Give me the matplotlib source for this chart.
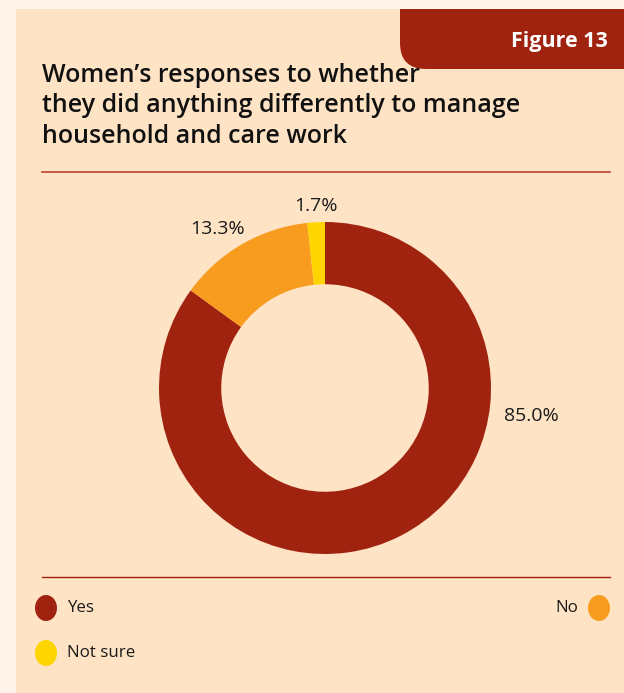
import matplotlib
matplotlib.use("Agg")
import matplotlib.pyplot as plt
from matplotlib.patches import FancyBboxPatch, Rectangle, Ellipse
from matplotlib.lines import Line2D
from matplotlib.transforms import IdentityTransform

categories = ["Yes", "No", "Not sure"]
values = [85.0, 13.3, 1.7]
value_labels = ["85.0%", "13.3%", "1.7%"]
colors = ["#A0230F", "#F89C1F", "#FFD500"]
title = "Women\u2019s responses to whether\nthey did anything differently to manage\nhousehold and care work"
badge = "Figure 13"

W, H = 624, 693
plt.rcParams['font.family'] = ['Open Sans', 'DejaVu Sans']
fig = plt.figure(figsize=(W / 100, H / 100), dpi=100)
fig.patch.set_facecolor("#FFF3EA")

def fx(px):
    return px / W

def fy(py):
    return 1 - py / H

# panel
fig.patches.append(Rectangle((fx(16), 0), 1 - fx(16), fy(9), transform=fig.transFigure,
                             facecolor="#FFE3C5", edgecolor="none", zorder=-2))
# badge (pixel coords, origin bottom-left)
fig.patches.append(FancyBboxPatch((400, H - 69), 260, 100,
                                  boxstyle="round,pad=0,rounding_size=26",
                                  transform=IdentityTransform(), facecolor="#A0230F",
                                  edgecolor="none", zorder=1))
fig.patches.append(Rectangle((0, fy(9)), 1, 1, transform=fig.transFigure,
                             facecolor="#FFF3EA", edgecolor="none", zorder=1.5))
fig.text(fx(608), fy(42), badge, ha="right", va="center", color="white",
         fontsize=15.5, fontweight="bold", zorder=2)
fig.text(fx(42), fy(63), title, ha="left", va="top", color="#111111",
         fontsize=18, fontweight="semibold", linespacing=1.28)
fig.lines.append(Line2D([fx(42), fx(610)], [fy(172), fy(172)], transform=fig.transFigure,
                        color="#C0452E", lw=1.2))
fig.lines.append(Line2D([fx(42), fx(610)], [fy(577), fy(577)], transform=fig.transFigure,
                        color="#A0230F", lw=1.0))

# donut
cx, cy, R = 325, 388, 166
half = 180
ax = fig.add_axes([fx(cx - half), fy(cy + half), fx(2 * half), (2 * half) / H])
ax.set_facecolor("none")
wedges, _ = ax.pie(values, colors=colors, startangle=90, counterclock=False,
                   radius=1.0, wedgeprops=dict(width=0.375, edgecolor="none"))
lim = half / R
ax.set_xlim(-lim, lim)
ax.set_ylim(-lim, lim)
ax.set_aspect("equal")
ax.axis("off")

label_pos = [(531, 416), (217, 229), (316, 206)]
for (px, py), t in zip(label_pos, value_labels):
    fig.text(fx(px), fy(py), t, ha="center", va="center", fontsize=14, color="#1a1a1a")

# legend
leg_items = [("Yes", 46, 608, "left"), ("No", 599, 608, "right"), ("Not sure", 46, 653, "left")]
for (name, px, py, side), c in zip(leg_items, colors):
    fig.patches.append(Ellipse((fx(px), fy(py)), fx(22), 26 / H, transform=fig.transFigure,
                               facecolor=c, edgecolor="none"))
    if side == "left":
        fig.text(fx(px + 21), fy(py), name, ha="left", va="center", fontsize=12.2, color="#1a1a1a")
    else:
        fig.text(fx(px - 21), fy(py), name, ha="right", va="center", fontsize=12.2, color="#1a1a1a")

fig.savefig("out.png", dpi=100, facecolor=fig.get_facecolor())
